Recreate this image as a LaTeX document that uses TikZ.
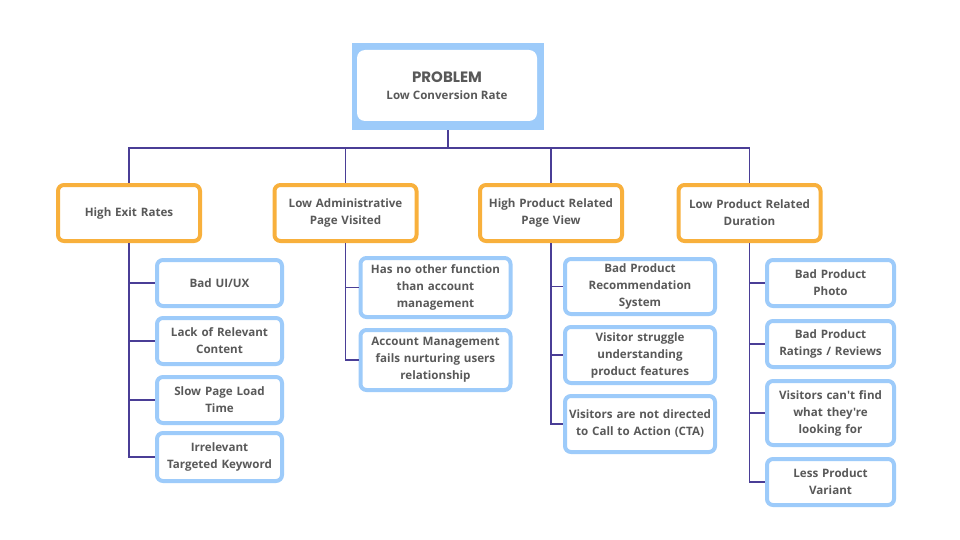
\documentclass[tikz,border=0pt]{standalone}
\usepackage{fontspec}
\setmainfont{Open Sans}[Ligatures=TeXOff]
\newfontfamily\popfont{Poppins}
\definecolor{txt}{HTML}{595959}
\definecolor{orng}{HTML}{F8B03C}
\definecolor{lblue}{HTML}{9DCBFA}
\definecolor{linec}{HTML}{4A3E96}
\begin{document}
\begin{tikzpicture}[x=1pt,y=-1pt,
  base/.style={rectangle,rounded corners=6pt,line width=4pt,fill=white,inner sep=0pt,align=center,text=txt,font=\bfseries\fontsize{11.6}{17}\selectfont},
  cat/.style={base,draw=orng,minimum width=142pt,minimum height=56pt,text width=140pt},
  sub/.style={base,draw=lblue},
  conn/.style={draw=linec,line width=1.4pt}
]
\useasboundingbox[fill=white] (0,0) rectangle (960,540);
% top
\node[fill=lblue,rectangle,minimum width=192pt,minimum height=87pt,inner sep=0pt] (topo) at (448,86.5) {};
\node[fill=white,rectangle,rounded corners=8pt,minimum width=180pt,minimum height=71pt,inner sep=0pt,align=center,text=txt] (top) at (447,85.5)
  {{\popfont\bfseries\fontsize{15}{18}\selectfont PROBLEM}\\[5pt]{\bfseries\fontsize{11.6}{17}\selectfont Low Conversion Rate}};
% categories
\node[cat] (c1) at (129,213) {High Exit Rates};
\node[cat] (c2) at (345.5,213) {Low Administrative\\Page Visited};
\node[cat] (c3) at (551,213) {High Product Related\\Page View};
\node[cat] (c4) at (749.5,213) {Low Product Related\\Duration};
% column 1
\node[sub,minimum width=125pt,minimum height=46pt,text width=122pt] (s11) at (219.5,283) {Bad UI/UX};
\node[sub,minimum width=125pt,minimum height=46pt,text width=122pt] (s12) at (219.5,341) {Lack of Relevant\\Content};
\node[sub,minimum width=125pt,minimum height=46pt,text width=122pt] (s13) at (219.5,400) {Slow Page Load\\Time};
\node[sub,minimum width=125pt,minimum height=48pt,text width=122pt] (s14) at (219.5,457) {Irrelevant\\Targeted Keyword};
% column 2
\node[sub,minimum width=150pt,minimum height=59pt,text width=148pt] (s21) at (435.5,287.5) {Has no other function\\than account\\management};
\node[sub,minimum width=150pt,minimum height=60pt,text width=148pt] (s22) at (435.5,360) {Account Management\\fails nurturing users\\relationship};
% column 3
\node[sub,minimum width=150pt,minimum height=55pt,text width=148pt] (s31) at (640,286.5) {Bad Product\\Recommendation\\System};
\node[sub,minimum width=150pt,minimum height=56pt,text width=148pt] (s32) at (640,355) {Visitor struggle\\understanding\\product features};
\node[sub,minimum width=150pt,minimum height=56pt,text width=148pt] (s33) at (640,424) {Visitors are not directed\\to Call to Action (CTA)};
% column 4
\node[sub,minimum width=127pt,minimum height=46pt,text width=125pt] (s41) at (830.5,283) {Bad Product\\Photo};
\node[sub,minimum width=127pt,minimum height=46pt,text width=125pt] (s42) at (830.5,344) {Bad Product\\Ratings / Reviews};
\node[sub,minimum width=127pt,minimum height=64pt,text width=125pt] (s43) at (830.5,413) {Visitors can't find\\what they're\\looking for};
\node[sub,minimum width=127pt,minimum height=46pt,text width=125pt] (s44) at (830.5,482) {Less Product\\Variant};
% connectors
\draw[conn] (topo.south) -- ++(0,18) coordinate (j);
\draw[conn] (c1.north) |- (j) -| (c4.north);
\draw[conn] (c2.north) -- (c2.north |- j);
\draw[conn] (c3.north) -- (c3.north |- j);
\foreach \s in {s11,s12,s13,s14} \draw[conn] (c1.south) |- (\s.west);
\foreach \s in {s21,s22} \draw[conn] (c2.south) |- (\s.west);
\foreach \s in {s31,s32,s33} \draw[conn] (c3.south) |- (\s.west);
\foreach \s in {s41,s42,s43,s44} \draw[conn] (c4.south) |- (\s.west);
\end{tikzpicture}
\end{document}
